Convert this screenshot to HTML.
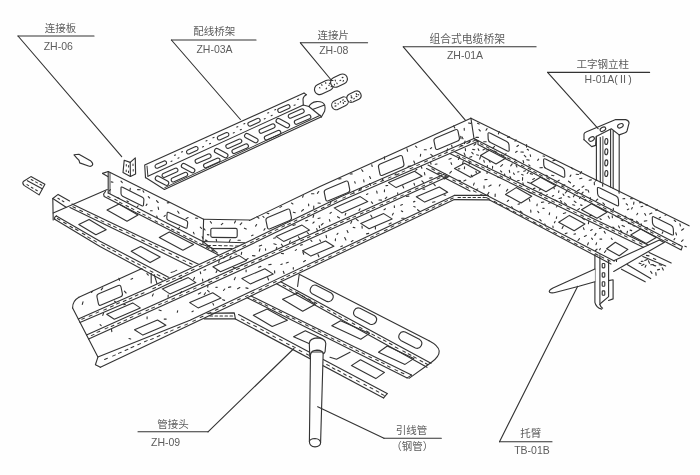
<!DOCTYPE html>
<html lang="zh"><head><meta charset="utf-8"><title>组合式电缆桥架安装示意图</title>
<style>
html,body{margin:0;padding:0;background:#fefefe;}
body{width:700px;height:475px;overflow:hidden;font-family:"Liberation Sans","Noto Sans CJK SC",sans-serif;}
svg{display:block;filter:blur(0.35px);}
svg text{font-family:"Liberation Sans","Noto Sans CJK SC",sans-serif;}
</style></head><body>
<svg width="700" height="475" viewBox="0 0 700 475" fill="none" stroke="#333" stroke-width="1.12" stroke-linecap="round" stroke-linejoin="round">
<g id="small-parts">
<path d="M124.2 160.2 L130.2 162.4 L130.4 176.5 L123.0 172.6Z"/>
<path d="M130.2 162.4 L135.3 157.9 L135.6 173.9 L130.4 176.5"/>
<path d="M126.3 164.5l0 1.5M126.2 170l0 1.5M128.6 165.5l0 1.5M128.5 171l0 1.5M133 164l0 1.5M133.2 169.5l0 1.5" stroke-width="1.01"/>
<path d="M74 154.8 L78.9 154.3 L90.9 161.1 Q93.5 163.5 92.4 165.2 Q91 167 88.5 166 L79.7 162.9 Q79.5 160 77.5 158.8 Z"/>
<path d="M24 185.4 Q22 183 23.3 181.5 L30.9 176.6 L44.9 184.3 L39.1 194.9 Z"/>
<path d="M27.4 180.7 L42.2 188.8"/>
<path d="M31.2 179.5 L33.0 180.5 M35.6 181.9 L37.4 182.9 M40.0 184.3 L41.8 185.3" stroke-width="1.01"/>
<path d="M27.0 184.6 L28.7 185.6 M31.3 187.2 L33.0 188.2 M35.6 189.8 L37.3 190.8" stroke-width="1.01"/>
<path d="M322.0 94.1 L330.6 89.9 A5.2 5.2 0 0 0 326.0 80.5 L317.4 84.7 A5.2 5.2 0 0 0 322.0 94.1 Z" fill="#fefefe"/>
<path d="M337.8 86.7 L344.6 83.5 A5.0 5.0 0 0 0 340.2 74.5 L333.4 77.7 A5.0 5.0 0 0 0 337.8 86.7 Z" fill="#fefefe"/>
<path d="M319.6 87.6 l0.3 0.4 M332.0 86.3 l-0.9 0.4 M325.7 82.6 l0.1 0.8 M326.6 88.2 l-0.5 0.7 M321.5 84.8 l0.6 0.4 M330.2 82.9 l-0.8 0.5 M329.2 85.2 l-0.4 0.3"/>
<path d="M343.0 77.4 l-0.8 0.2 M336.8 83.0 l0.4 0.7 M333.0 80.5 l-0.7 0.0 M343.5 80.5 l-0.4 0.7 M340.7 80.3 l-0.7 0.3 M335.2 80.0 l0.2 0.9 M334.4 84.4 l0.0 0.5"/>
<path d="M338.2 109.2 L345.8 105.5 A4.5 4.5 0 0 0 341.8 97.4 L334.2 101.1 A4.5 4.5 0 0 0 338.2 109.2 Z" fill="#fefefe"/>
<path d="M352.9 102.1 L358.9 99.2 A4.4 4.4 0 0 0 355.1 91.3 L349.1 94.2 A4.4 4.4 0 0 0 352.9 102.1 Z" fill="#fefefe"/>
<path d="M340.6 101.6 l-0.3 0.6 M334.9 103.1 l0.8 0.1 M344.6 101.4 l0.7 0.1 M338.0 103.9 l0.5 0.1 M336.0 105.9 l-1.0 0.2 M343.2 102.6 l0.3 0.9 M343.1 99.5 l-0.2 0.9"/>
<path d="M350.7 100.5 l0.4 0.7 M358.0 94.6 l0.8 0.3 M351.0 95.8 l0.6 0.4 M354.3 98.3 l-0.5 0.5 M356.0 96.3 l0.9 0.3 M356.2 93.6 l0.4 0.9 M351.2 97.6 l0.9 0.3"/>
</g>
<g id="wire-tray-zh03a">
<path d="M145.5 177.6 L144.7 165.0 L304.1 93.1"/>
<path d="M304.1 93.1 L306.5 94.7 Q303.4 96 303 99 L303.3 105"/>
<path d="M147.0 166.0 L147.9 176.2" stroke-width="1.01"/>
<path d="M147.9 176.2 L303.3 105.0 L308.9 106.5"/>
<path d="M145.5 177.6 L164.4 189.4 L321.5 116.8"/>
<path d="M164.8 187.6 L320.3 115.2" stroke-width="1.01"/>
<path d="M308.9 106.5 L321.5 116.8"/>
<path d="M308.9 106.5 Q311 102.3 316.5 101.6 Q323 101.2 324.7 105.2 Q325.6 108 324.6 111.3 L321.5 116.8"/>
<path d="M312.5 109.5 L324.6 105.0" stroke-width="1.01"/>
<path d="M157.5 168.2 L165.7 164.5 A2.0 2.0 0 0 0 164.1 160.9 L155.9 164.6 A2.0 2.0 0 0 0 157.5 168.2 Z"/>
<path d="M171.0 161.4 l1 -0.4"/>
<path d="M174.5 155.3 l1 -0.4"/>
<path d="M178.0 158.2 l1 -0.4"/>
<path d="M181.5 152.1 l1 -0.4"/>
<path d="M189.0 153.9 L197.2 150.2 A2.0 2.0 0 0 0 195.6 146.6 L187.4 150.3 A2.0 2.0 0 0 0 189.0 153.9 Z"/>
<path d="M202.5 147.0 l1 -0.4"/>
<path d="M206.0 141.0 l1 -0.4"/>
<path d="M209.5 143.8 l1 -0.4"/>
<path d="M213.0 137.8 l1 -0.4"/>
<path d="M219.8 139.9 L228.0 136.2 A2.0 2.0 0 0 0 226.4 132.6 L218.2 136.3 A2.0 2.0 0 0 0 219.8 139.9 Z"/>
<path d="M233.3 133.0 l1 -0.4"/>
<path d="M236.8 127.1 l1 -0.4"/>
<path d="M240.3 129.8 l1 -0.4"/>
<path d="M243.8 123.9 l1 -0.4"/>
<path d="M250.7 125.9 L258.9 122.2 A2.0 2.0 0 0 0 257.3 118.5 L249.1 122.2 A2.0 2.0 0 0 0 250.7 125.9 Z"/>
<path d="M264.2 118.9 l1 -0.4"/>
<path d="M267.7 113.1 l1 -0.4"/>
<path d="M271.2 115.7 l1 -0.4"/>
<path d="M274.7 109.9 l1 -0.4"/>
<path d="M280.6 112.3 L288.8 108.6 A2.0 2.0 0 0 0 287.2 104.9 L279.0 108.6 A2.0 2.0 0 0 0 280.6 112.3 Z"/>
<path d="M294.1 105.3 l1 -0.4"/>
<path d="M297.6 99.5 l1 -0.4"/>
<path d="M156.5 180.4 L165.3 185.1 A2.3 2.3 0 0 0 167.5 181.0 L158.7 176.3 A2.3 2.3 0 0 0 156.5 180.4 Z"/>
<path d="M182.6 167.8 L191.4 172.5 A2.3 2.3 0 0 0 193.6 168.4 L184.8 163.7 A2.3 2.3 0 0 0 182.6 167.8 Z"/>
<path d="M215.7 152.8 L224.5 157.5 A2.3 2.3 0 0 0 226.7 153.4 L217.9 148.7 A2.3 2.3 0 0 0 215.7 152.8 Z"/>
<path d="M245.8 137.8 L254.6 142.5 A2.3 2.3 0 0 0 256.8 138.4 L248.0 133.7 A2.3 2.3 0 0 0 245.8 137.8 Z"/>
<path d="M277.3 122.8 L286.1 127.5 A2.3 2.3 0 0 0 288.3 123.4 L279.5 118.7 A2.3 2.3 0 0 0 277.3 122.8 Z"/>
<path d="M164.9 177.3 L176.7 172.1 A2.0 2.0 0 0 0 175.1 168.3 L163.3 173.5 A2.0 2.0 0 0 0 164.9 177.3 Z"/>
<path d="M198.0 163.1 L209.8 157.9 A2.0 2.0 0 0 0 208.2 154.1 L196.4 159.3 A2.0 2.0 0 0 0 198.0 163.1 Z"/>
<path d="M228.7 148.2 L240.5 143.0 A2.0 2.0 0 0 0 238.9 139.2 L227.1 144.4 A2.0 2.0 0 0 0 228.7 148.2 Z"/>
<path d="M262.0 133.1 L273.8 127.9 A2.0 2.0 0 0 0 272.2 124.1 L260.4 129.3 A2.0 2.0 0 0 0 262.0 133.1 Z"/>
<path d="M291.1 118.1 L302.9 112.9 A2.0 2.0 0 0 0 301.3 109.1 L289.5 114.3 A2.0 2.0 0 0 0 291.1 118.1 Z"/>
<path d="M174.1 181.7 L186.4 176.3 A2.0 2.0 0 0 0 184.7 172.5 L172.4 177.9 A2.0 2.0 0 0 0 174.1 181.7 Z"/>
<path d="M206.5 167.5 L218.8 162.1 A2.0 2.0 0 0 0 217.1 158.3 L204.8 163.7 A2.0 2.0 0 0 0 206.5 167.5 Z"/>
<path d="M234.9 153.3 L247.2 147.9 A2.0 2.0 0 0 0 245.5 144.1 L233.2 149.5 A2.0 2.0 0 0 0 234.9 153.3 Z"/>
<path d="M267.3 139.8 L279.6 134.4 A2.0 2.0 0 0 0 277.9 130.6 L265.6 136.0 A2.0 2.0 0 0 0 267.3 139.8 Z"/>
<path d="M297.3 124.1 L309.6 118.7 A2.0 2.0 0 0 0 307.9 114.9 L295.6 120.3 A2.0 2.0 0 0 0 297.3 124.1 Z"/>
</g>
<g id="tray1-upper-left">
<path d="M102.6 173.4 L108.2 171.5 L203.6 219.3"/>
<path d="M102.6 173.4 L107.8 176.6"/>
<path d="M108.2 171.5 L108.2 192.9"/>
<path d="M110.0 172.6 L110.0 193.5" stroke-width="0.90"/>
<path d="M108.2 192.9 L202.9 241.5"/>
<path d="M105.5 191.5 L103.6 194.0 L104.2 196.6 L220.0 255.8"/>
<path d="M202.9 241.5 L217.3 252.9"/>
<path d="M107.8 196.3 L110.2 197.6 M114.8 199.3 L117.3 200.6 M119.6 202.3 L122.1 203.6 M126.0 205.5 L128.5 206.8 M131.5 208.3 L133.9 209.6 M137.5 211.5 L140.0 212.7 M142.8 214.1 L145.2 215.3 M148.3 217.1 L150.8 218.4 M155.1 220.8 L157.6 222.1 M161.2 223.6 L163.7 224.9 M166.7 226.2 L169.2 227.5 M171.5 229.0 L174.0 230.2 M177.0 231.8 L179.5 233.0 M183.6 235.3 L186.1 236.6 M189.7 238.2 L192.2 239.5 M194.6 240.8 L197.1 242.1 M199.7 243.5 L202.1 244.8 M206.5 247.2 L209.0 248.5 M211.6 250.0 L214.1 251.3" stroke-width="1.01"/>
<path d="M121.0 188.2 Q121.0 186.4 122.6 187.2 L142.4 197.2 Q144.0 198.0 143.9 199.8 L143.5 204.7 Q143.4 206.5 141.8 205.7 L122.6 196.2 Q121.0 195.4 121.0 193.6 Z"/>
<path d="M167.1 213.5 Q167.3 211.7 168.9 212.5 L186.3 220.4 Q187.9 221.2 187.7 223.0 L187.2 227.0 Q187.0 228.8 185.4 228.1 L168.2 220.3 Q166.6 219.6 166.8 217.8 Z"/>
<path d="M150.5 210.7 l1.7 0.0 M200.3 227.2 l1.2 1.1 M110.4 189.6 l-1.2 1.4 M177.7 211.2 l1.3 2.0 M169.2 202.6 l-1.9 0.3 M121.0 181.2 l1.3 1.5 M179.5 227.2 l-1.4 2.1 M156.5 200.7 l1.7 1.8 M193.4 232.3 l0.7 1.6 M202.2 236.8 l0.7 1.6 M165.3 215.3 l-1.2 1.1 M148.3 196.7 l1.3 1.3 M188.1 217.6 l-2.1 1.1 M127.0 200.9 l1.4 0.8 M137.6 189.6 l2.6 0.1 M156.7 216.0 l0.6 1.7 M117.2 197.5 l2.2 0.9 M158.1 207.0 l0.5 2.4 M138.1 205.8 l-1.0 1.2 M195.6 218.1 l2.0 0.1 M130.3 188.4 l-0.3 1.7 M111.2 181.9 l1.8 0.3 M147.0 204.1 l-0.9 1.4 M143.0 190.8 l0.8 1.4"/>
<path d="M203.6 219.3 L249.4 220.0"/>
<path d="M203.6 219.3 L202.9 244.4"/>
<path d="M202.9 241.5 L244.6 242.8"/>
<path d="M202.9 244.4 L213.0 248.6 L234.4 248.6 L245.1 243.6"/>
<path d="M207.5 245.4 L210.5 245.5 M213.1 245.5 L216.1 245.6 M218.7 245.6 L221.7 245.7 M224.3 245.7 L227.3 245.8 M229.9 245.8 L232.9 245.9 M235.5 245.9 L238.5 246.0" stroke-width="1.01"/>
<path d="M210.8 229.8 Q210.8 228.2 212.4 228.2 L235.6 228.4 Q237.2 228.4 237.2 230.0 L237.2 236.0 Q237.2 237.6 235.6 237.6 L212.4 237.4 Q210.8 237.4 210.8 235.8 Z"/>
<path d="M238.0 240.3 l2.3 0.0 M210.3 221.5 l1.2 1.6 M205.3 240.1 l1.7 0.5 M241.8 222.8 l-1.6 1.8 M222.8 223.4 l-1.5 1.3 M203.9 228.6 l1.2 1.4 M230.2 239.6 l-0.9 2.1 M216.2 239.2 l0.4 1.9 M235.5 220.9 l-1.0 2.1 M244.4 228.2 l1.8 0.9 M207.4 234.6 l1.5 0.3"/>
<path d="M53.2 213.0 L107.3 189.6"/>
<path d="M53.2 219.9 L52.8 198.5 L58.1 194.4 L69.6 201.0"/>
<path d="M52.8 198.5 L66.1 207.3"/>
<path d="M57.9 198.3 L59.6 199.3 M62.2 200.8 L63.9 201.8" stroke-width="1.01"/>
<path d="M56.4 215.9 L100.0 241.2 L169.9 278.0"/>
<path d="M54.7 219.3 L100.0 246.4 L163.8 281.1"/>
<path d="M56.4 215.9 Q53.8 217 54.7 219.3"/>
<path d="M57.4 218.5 L59.9 220.0 M63.6 222.3 L66.2 223.8 M70.0 226.2 L72.5 227.7 M75.4 229.0 L78.0 230.5 M82.3 233.2 L84.9 234.7 M87.7 236.9 L90.3 238.4 M93.9 240.4 L96.4 241.9" stroke-width="1.01"/>
<path d="M101.8 244.6 L104.5 246.0 M107.3 247.6 L109.9 249.0 M112.9 250.4 L115.6 251.8 M118.8 254.1 L121.5 255.6 M125.9 257.8 L128.5 259.2 M131.7 260.8 L134.3 262.2 M137.6 263.7 L140.3 265.1 M143.1 266.6 L145.8 268.0 M150.2 270.9 L152.9 272.3 M157.3 274.6 L159.9 276.0 M163.1 277.4 L165.7 278.8" stroke-width="1.01"/>
<path d="M72.0 204.0 L140.0 236.5 L199.0 264.5"/>
<path d="M70.0 207.6 L140.0 241.5 L192.2 267.6"/>
<path d="M72.8 206.7 L75.5 208.0 M79.8 210.2 L82.5 211.5 M87.3 213.8 L90.0 215.1 M94.9 217.0 L97.6 218.3 M101.1 220.6 L103.8 221.9 M107.9 223.8 L110.6 225.1 M113.6 226.3 L116.3 227.6 M119.5 229.2 L122.2 230.5 M126.3 232.1 L129.0 233.4 M132.1 235.0 L134.8 236.4" stroke-width="1.01"/>
<path d="M141.7 240.0 L144.4 241.3 M149.0 243.4 L151.7 244.7 M155.1 246.0 L157.8 247.3 M161.8 249.6 L164.5 250.9 M168.9 253.0 L171.6 254.3 M176.0 256.3 L178.7 257.7 M183.0 260.1 L185.7 261.4 M189.4 263.0 L192.1 264.3" stroke-width="1.01"/>
<path d="M78.8 224.6 L89.1 219.4 L106.2 229.7 L95.9 234.8Z"/>
<path d="M131.2 251.2 L140.7 246.5 L160.2 257.0 L150.1 262.6Z"/>
<path d="M107.0 210.0 L119.0 204.0 L138.0 215.0 L127.0 221.3Z"/>
<path d="M159.3 237.6 L169.3 231.9 L193.6 244.5 L182.9 250.2Z"/>
</g>
<g id="tray2">
<path d="M78.3 318.9 L452.0 148.5 L452.0 200.7 L100.4 367.2Z" fill="#fefefe" stroke="none"/>
<path d="M72.6 307.9 Q72.4 301 78.9 297.3"/>
<path d="M78.9 297.3 L142.0 268.5"/>
<path d="M151.2 273.2 L151.2 283.0"/>
<path d="M154.2 274.6 L157.0 283.6"/>
<path d="M171 272.4 Q174 272.2 176.8 270.2" stroke-width="1.01"/>
<path d="M249.4 220.5 L320.0 186.6 L470.9 118.2"/>
<path d="M470.9 118.2 L474.0 138.5 L478.0 141.2"/>
<path d="M72.6 307.9 L97.9 357.1 L95.4 364.7 L100.4 367.2"/>
<path d="M78.3 318.9 L150.0 287.2 L240.0 245.5 L340.0 197.0 L474.0 138.5"/>
<path d="M79.9 322.4 L150.0 292.4 L240.0 249.8 L340.0 201.3 L478.0 141.2"/>
<path d="M86.5 335.0 L445.1 173.8"/>
<path d="M88.6 339.0 L449.1 175.9"/>
<path d="M97.9 357.1 L190.0 320.3 L454.3 195.4"/>
<path d="M100.4 367.2 L454.3 199.6"/>
<path d="M81.8 319.3 L84.5 318.1 M89.2 316.3 L92.0 315.1 M96.0 313.1 L98.7 311.9 M103.7 310.1 L106.4 309.0 M110.5 307.0 L113.3 305.8 M116.6 304.0 L119.4 302.8 M123.3 301.5 L126.1 300.3 M129.2 299.0 L131.9 297.8 M135.3 296.0 L138.0 294.8 M141.2 294.0 L144.0 292.8" stroke-width="1.01"/>
<path d="M152.8 288.8 L155.6 287.5 M158.5 285.5 L161.2 284.2 M166.6 281.8 L169.3 280.6 M172.5 279.3 L175.3 278.1 M179.0 276.5 L181.7 275.2 M185.2 273.6 L187.9 272.4 M191.4 270.5 L194.1 269.2 M199.3 266.8 L202.0 265.6 M207.1 263.2 L209.9 261.9 M212.9 260.6 L215.6 259.3 M219.7 257.0 L222.5 255.7 M225.9 254.5 L228.6 253.2 M232.9 251.3 L235.6 250.0" stroke-width="1.01"/>
<path d="M242.8 246.6 L245.5 245.3 M250.6 242.8 L253.3 241.4 M256.3 239.8 L259.0 238.5 M262.8 236.6 L265.5 235.3 M268.6 233.6 L271.3 232.3 M275.2 230.4 L277.9 229.1 M281.8 227.1 L284.5 225.7 M287.7 224.6 L290.4 223.3 M294.2 221.4 L296.9 220.0 M301.5 217.7 L304.2 216.4 M307.3 215.2 L310.0 213.9 M314.2 211.8 L316.9 210.4 M321.4 208.5 L324.1 207.2 M327.7 205.3 L330.4 204.0 M334.1 202.1 L336.8 200.8" stroke-width="1.01"/>
<path d="M342.8 198.1 L345.6 196.9 M350.4 194.4 L353.1 193.2 M358.5 190.9 L361.3 189.7 M365.8 187.6 L368.5 186.4 M373.3 184.4 L376.1 183.2 M380.8 181.5 L383.6 180.3 M388.3 178.1 L391.0 176.9 M396.2 175.0 L399.0 173.8 M402.0 172.1 L404.8 170.9 M410.1 168.8 L412.8 167.6 M416.7 165.6 L419.5 164.4 M424.6 162.0 L427.4 160.8 M432.4 159.1 L435.1 157.9 M438.3 156.2 L441.0 155.0 M444.7 153.5 L447.4 152.3 M451.3 150.9 L454.1 149.7 M459.1 147.1 L461.9 145.9 M466.9 143.5 L469.7 142.3 M472.9 141.3 L475.7 140.1" stroke-width="1.01"/>
<path d="M91.3 335.6 L94.0 334.4 M97.0 332.4 L99.8 331.2 M105.1 328.9 L107.9 327.6 M111.2 326.5 L113.9 325.2 M117.7 323.7 L120.4 322.4 M123.9 320.9 L126.6 319.7 M130.2 317.8 L132.9 316.6 M138.1 314.3 L140.8 313.1 M146.0 310.8 L148.7 309.6 M151.7 308.3 L154.5 307.1 M158.7 304.8 L161.4 303.6 M164.9 302.4 L167.6 301.1 M171.9 299.2 L174.7 298.0 M179.4 295.9 L182.2 294.6 M186.4 292.6 L189.1 291.3 M193.4 289.1 L196.1 287.9 M201.4 285.6 L204.1 284.3 M209.0 282.5 L211.8 281.3 M216.1 278.8 L218.8 277.6 M223.8 275.7 L226.6 274.4 M229.7 272.6 L232.5 271.3 M236.6 269.5 L239.4 268.2 M244.6 266.2 L247.4 264.9 M251.5 263.0 L254.2 261.8 M258.9 260.0 L261.6 258.8 M265.1 256.9 L267.8 255.6 M272.1 253.6 L274.8 252.4 M279.2 250.6 L282.0 249.3 M285.9 247.6 L288.7 246.4 M292.7 244.2 L295.4 243.0 M300.8 240.7 L303.6 239.5 M307.5 237.7 L310.2 236.5 M315.5 234.5 L318.3 233.2 M322.3 231.1 L325.0 229.8 M328.2 228.7 L331.0 227.5 M334.2 225.8 L336.9 224.6 M340.6 222.8 L343.3 221.5 M347.0 219.8 L349.8 218.5 M352.8 217.4 L355.6 216.2 M360.4 214.0 L363.2 212.8 M366.5 211.3 L369.3 210.1 M372.2 208.6 L374.9 207.3 M380.0 205.4 L382.7 204.2 M386.7 202.3 L389.4 201.1 M393.4 199.1 L396.2 197.8 M400.6 196.1 L403.3 194.9 M407.9 192.5 L410.6 191.3 M415.3 189.3 L418.1 188.0 M421.9 186.4 L424.6 185.2 M429.4 182.9 L432.2 181.7 M437.2 179.0 L440.0 177.8 M444.2 176.2 L446.9 175.0" stroke-width="1.01"/>
<path d="M104.6 359.5 L107.4 358.3 M112.6 356.1 L115.4 354.9 M118.4 353.4 L121.2 352.2 M125.1 350.5 L127.9 349.3 M131.0 347.7 L133.8 346.5 M137.8 344.8 L140.5 343.6 M144.5 341.8 L147.2 340.6 M150.5 339.6 L153.3 338.5 M157.2 336.7 L159.9 335.5 M164.6 333.4 L167.4 332.2 M170.5 331.1 L173.2 329.9 M177.6 328.0 L180.3 326.8 M184.8 325.1 L187.6 323.9" stroke-width="1.01"/>
<path d="M192.8 321.4 L195.5 320.1 M200.2 317.5 L203.0 316.2 M208.2 313.7 L210.9 312.4 M215.4 310.2 L218.1 309.0 M222.8 306.8 L225.5 305.5 M230.3 303.6 L233.0 302.4 M237.6 300.0 L240.3 298.7 M245.4 296.6 L248.1 295.4 M251.2 293.6 L253.9 292.3 M259.1 290.0 L261.8 288.7 M265.6 286.6 L268.4 285.3 M273.5 282.8 L276.2 281.5 M281.1 279.7 L283.8 278.4 M286.9 276.6 L289.6 275.3 M293.3 273.7 L296.0 272.4 M299.8 270.9 L302.5 269.6 M307.5 266.8 L310.2 265.6 M315.1 263.0 L317.9 261.8 M321.1 260.6 L323.8 259.3 M328.6 257.2 L331.4 255.9 M336.6 253.4 L339.3 252.1 M342.8 250.4 L345.5 249.1 M350.5 246.4 L353.2 245.1 M357.2 243.2 L360.0 241.9 M363.2 240.6 L365.9 239.3 M370.6 237.4 L373.3 236.1 M376.3 234.4 L379.0 233.1 M384.4 230.8 L387.1 229.5 M391.1 227.2 L393.8 225.9 M398.2 223.9 L400.9 222.6 M405.4 220.7 L408.1 219.4 M412.0 217.7 L414.7 216.4 M418.4 214.4 L421.2 213.2 M426.0 210.7 L428.7 209.4 M432.1 208.1 L434.8 206.8 M438.8 205.1 L441.5 203.8 M444.8 201.9 L447.5 200.6 M450.5 199.3 L453.2 198.0" stroke-width="1.01"/>
<path d="M97.0 297.0 Q96.5 294.7 98.7 293.8 L118.3 285.5 Q120.5 284.6 121.0 287.0 L122.4 293.6 Q122.9 295.9 120.7 296.8 L101.1 305.1 Q98.9 306.0 98.4 303.6 Z"/>
<path d="M266.0 220.7 Q265.5 218.4 267.7 217.5 L287.3 209.2 Q289.5 208.3 290.0 210.7 L291.4 217.3 Q291.9 219.6 289.7 220.5 L270.1 228.8 Q267.9 229.7 267.4 227.3 Z"/>
<path d="M324.3 192.7 Q323.8 190.4 326.0 189.5 L345.6 181.2 Q347.8 180.3 348.3 182.7 L349.7 189.3 Q350.2 191.6 348.0 192.5 L328.4 200.8 Q326.2 201.7 325.7 199.3 Z"/>
<path d="M378.5 167.2 Q378.0 164.9 380.2 164.0 L399.8 155.7 Q402.0 154.8 402.5 157.2 L403.9 163.8 Q404.4 166.1 402.2 167.0 L382.6 175.3 Q380.4 176.2 379.9 173.8 Z"/>
<path d="M434.0 141.2 Q433.5 138.9 435.7 138.0 L455.3 129.7 Q457.5 128.8 458.0 131.2 L459.4 137.8 Q459.9 140.1 457.7 141.0 L438.1 149.3 Q435.9 150.2 435.4 147.8 Z"/>
<path d="M106.7 314.2 L132.7 302.9 L140.3 307.9 L114.3 319.2Z"/>
<path d="M162.3 288.9 L188.3 277.6 L195.9 282.6 L169.9 293.9Z"/>
<path d="M212.9 266.7 L238.9 255.4 L246.5 260.4 L220.5 271.7Z"/>
<path d="M276.0 236.4 L302.0 225.1 L309.6 230.1 L283.6 241.4Z"/>
<path d="M334.2 207.9 L360.2 196.6 L367.8 201.6 L341.8 212.9Z"/>
<path d="M388.5 182.6 L414.5 171.3 L422.1 176.3 L396.1 187.6Z"/>
<path d="M134.5 329.8 L157.5 320.0 L165.9 325.3 L142.9 335.1Z"/>
<path d="M189.7 302.6 L212.7 292.8 L221.1 298.1 L198.1 307.9Z"/>
<path d="M241.9 278.6 L264.9 268.8 L273.3 274.1 L250.3 283.9Z"/>
<path d="M302.5 250.8 L325.5 241.0 L333.9 246.3 L310.9 256.1Z"/>
<path d="M360.7 223.4 L383.7 213.6 L392.1 218.9 L369.1 228.7Z"/>
<path d="M416.3 196.8 L439.3 187.0 L447.7 192.3 L424.7 202.1Z"/>
<path d="M303.5 209.5 l-1.9 1.7 M447.6 148.8 l-0.8 2.3 M369.6 176.5 l1.0 2.0 M256.6 224.5 l-1.0 1.6 M410.6 166.1 l-2.5 0.3 M291.5 203.1 l1.4 0.8 M431.6 147.7 l-1.2 0.9 M464.2 128.2 l0.1 2.1 M341.0 178.8 l-2.2 0.1 M407.0 148.9 l0.6 2.4 M382.8 178.7 l-0.5 1.5 M262.9 216.3 l1.1 1.1 M313.8 206.0 l-0.1 2.4 M353.7 191.6 l0.3 2.0 M384.4 156.9 l0.2 2.3 M253.1 235.1 l-1.5 0.6 M352.1 173.9 l-1.9 0.1 M318.7 191.5 l-1.3 1.8 M420.7 154.2 l-0.4 2.1 M330.9 201.6 l-0.4 1.5 M395.9 173.8 l-0.9 1.1 M293.3 212.3 l1.9 0.5 M318.0 203.0 l2.2 0.3 M371.7 164.7 l0.5 1.8 M468.4 123.0 l2.3 0.4 M265.0 228.6 l-1.1 1.6 M369.5 183.7 l1.2 1.7 M453.7 125.9 l1.1 2.0 M281.6 206.4 l-1.6 1.0 M361.7 169.7 l1.2 1.7 M257.0 216.6 l1.9 1.6 M267.1 213.2 l1.7 0.4 M451.6 145.2 l0.5 2.0 M361.5 188.3 l-2.0 1.2 M426.3 149.7 l-2.0 0.1 M415.6 146.2 l1.2 1.1 M430.8 154.4 l1.7 1.5 M413.8 161.0 l0.9 2.2 M303.2 195.6 l-0.6 1.6 M462.0 136.9 l1.0 1.9 M313.9 193.8 l-2.4 0.0 M363.7 179.9 l0.3 2.0 M354.7 181.7 l0.5 1.4 M308.6 204.1 l0.1 1.6"/>
<path d="M83.0 301.9 l-0.7 2.5 M146.9 273.6 l1.4 1.5 M124.4 291.2 l1.7 1.8 M118.9 278.2 l0.6 2.1 M132.6 278.4 l-1.6 0.8 M114.6 301.2 l1.1 0.9 M92.4 291.4 l-0.9 1.1 M102.7 287.8 l-1.5 2.0"/>
<path d="M153.3 293.9 l-0.9 2.1 M100.1 324.7 l1.1 1.0 M125.3 304.5 l-1.5 0.1 M194.5 277.4 l-0.9 2.0 M181.5 291.7 l-1.2 1.4 M103.5 313.1 l-0.7 2.3 M181.4 278.3 l-1.7 0.2 M168.2 295.0 l-0.1 2.2"/>
<path d="M261.6 245.2 l-2.3 0.9 M386.8 197.1 l-1.5 1.6 M202.6 279.1 l0.1 1.8 M437.1 164.0 l-1.8 0.3 M331.3 212.4 l-1.2 0.9 M290.3 240.9 l-0.8 1.5 M307.8 220.3 l-2.1 0.6 M414.0 183.3 l0.6 1.8 M225.0 256.9 l-1.3 1.3 M360.0 208.8 l-1.0 1.7 M371.4 201.9 l1.2 1.5 M241.7 252.2 l-0.4 2.2 M217.0 270.4 l-0.9 2.0 M316.7 228.6 l0.8 2.5 M387.7 185.5 l-1.7 0.1 M295.3 224.7 l-2.3 0.7 M424.4 172.5 l0.5 2.5 M329.4 219.6 l0.6 1.7 M421.9 180.8 l1.5 1.6 M376.7 191.1 l0.4 2.0 M275.8 237.8 l-2.2 0.4 M345.8 213.3 l-0.6 1.8 M205.7 269.6 l-1.8 0.6 M233.2 267.5 l2.3 0.5 M252.5 255.6 l2.5 0.3 M402.7 185.8 l1.0 2.2 M243.0 264.5 l-2.3 1.0 M248.1 258.6 l-2.1 1.3 M397.7 192.8 l-0.0 1.4 M320.1 218.0 l-2.0 0.5 M276.8 247.3 l-0.6 1.6 M416.9 169.3 l-1.3 0.9 M437.5 173.2 l2.0 0.3 M323.1 223.3 l-1.7 1.7 M367.9 193.8 l-1.3 0.6 M281.4 244.2 l1.4 2.1 M307.3 232.7 l1.2 0.9 M231.1 256.3 l-1.2 1.8 M337.5 216.7 l2.1 1.2 M265.5 248.8 l0.1 1.4 M421.1 166.3 l0.8 2.0 M379.0 200.0 l2.5 0.1 M234.7 254.0 l2.0 0.3 M209.4 279.2 l-1.3 1.6 M219.2 260.4 l-0.5 2.4 M313.7 215.0 l-0.6 2.4 M273.8 243.8 l2.3 0.7 M384.5 189.8 l-0.1 1.9 M298.4 236.7 l1.4 2.0 M432.2 177.7 l-2.5 0.4 M259.9 248.8 l-0.6 2.3 M319.2 225.7 l0.4 2.0 M430.6 162.4 l0.4 1.8 M314.1 222.0 l-1.2 1.1 M200.3 271.9 l0.4 1.7"/>
<path d="M177.7 310.7 l-0.4 1.6 M111.5 329.4 l0.3 2.2 M147.1 316.9 l-0.0 1.9 M129.0 338.5 l1.7 0.5 M200.7 292.8 l-2.3 1.1 M164.2 319.1 l2.0 0.0 M159.0 310.0 l2.2 0.7 M193.3 311.1 l-1.3 0.6"/>
<path d="M246.1 270.0 l0.0 1.8 M391.2 223.0 l-2.1 1.1 M347.1 230.6 l0.9 2.0 M446.5 177.9 l-2.3 1.1 M434.9 201.7 l-2.4 0.5 M305.4 260.6 l-1.8 1.1 M319.7 239.9 l0.9 1.4 M408.9 196.1 l-2.5 0.4 M230.8 286.9 l-2.3 0.5 M271.1 264.4 l-2.4 0.4 M385.5 208.8 l-1.5 0.9 M302.3 244.6 l-1.9 0.6 M245.9 287.9 l2.1 0.5 M356.2 219.1 l2.0 1.6 M417.6 209.7 l1.9 1.5 M368.7 233.4 l-2.2 0.5 M370.8 215.2 l1.2 2.1 M422.9 189.1 l1.9 0.0 M414.9 201.4 l-1.4 0.5 M337.9 233.3 l-0.9 1.1 M205.5 292.8 l-1.3 1.9 M260.9 266.4 l-2.3 0.8 M222.7 299.7 l1.9 0.7 M281.4 253.5 l2.0 0.1 M342.4 245.9 l-1.5 0.7 M318.0 254.5 l0.9 2.3 M375.4 226.5 l-0.0 2.5 M235.3 277.4 l-1.0 2.3 M401.4 210.9 l1.2 0.7 M282.3 264.0 l-1.4 0.5 M353.0 240.5 l-1.7 1.1 M217.4 287.2 l-1.5 0.2 M267.7 277.6 l0.9 2.4 M274.6 270.9 l0.1 2.1 M293.3 267.5 l-0.0 1.6 M444.0 194.9 l1.7 0.3 M393.3 213.3 l-0.9 1.6 M351.7 221.3 l-0.9 2.1 M288.3 262.3 l-2.0 0.7 M404.3 218.2 l-2.6 0.0 M353.2 227.4 l1.7 0.4 M212.9 303.4 l0.7 1.7 M433.7 183.8 l1.5 1.9 M394.3 205.7 l0.1 1.7 M310.8 240.2 l1.1 1.1 M362.0 226.0 l0.2 2.2 M283.3 271.3 l0.8 2.2 M326.1 235.3 l0.5 2.5 M296.5 249.6 l-1.2 0.8 M239.8 287.6 l-2.2 1.2 M402.4 204.5 l-1.7 0.7 M302.9 252.0 l0.8 2.3 M344.7 237.6 l1.2 2.3 M413.8 206.5 l1.4 0.5 M207.9 285.0 l-0.2 2.1 M207.6 290.4 l1.6 1.5 M335.5 238.7 l-0.2 2.1 M224.7 289.0 l-1.2 1.5"/>
<path d="M207.0 313.2 L234.3 312.9 L235.4 318.9 L204.3 318.9"/>
<path d="M210.0 316.0 L212.5 316.0 M215.0 316.0 L217.5 316.0 M220.0 316.0 L222.5 316.0 M225.0 316.0 L227.5 316.0 M230.0 316.0 L232.5 316.0" stroke-width="1.01"/>
<path d="M454.3 195.4 L488.4 195.4"/>
<path d="M454.3 199.6 L489.6 199.9"/>
<path d="M458.0 197.6 L460.5 197.6 M463.0 197.6 L465.5 197.6 M468.0 197.6 L470.5 197.6 M473.0 197.6 L475.5 197.6 M478.0 197.6 L480.5 197.6 M483.0 197.6 L485.5 197.6" stroke-width="1.01"/>
</g>
<g id="tray3">
<path d="M470.9 118.2 L689.1 225.8"/>
<path d="M679.0 244.7 L682.3 246.6 L681.2 250.0 L680.3 249.4"/>
<path d="M474.0 138.5 L679.0 244.7"/>
<path d="M478.0 141.2 L478.0 144.4 L680.3 249.4"/>
<path d="M454.7 151.8 L648.1 245.0"/>
<path d="M450.3 153.8 L643.3 247.3"/>
<path d="M428.0 165.0 L614.3 261.1"/>
<path d="M426.5 168.6 L470.0 191.1"/>
<path d="M489.6 199.9 L611.0 264.0"/>
<path d="M480.5 143.7 L483.1 145.1 M486.5 146.7 L489.2 148.1 M494.1 150.9 L496.7 152.3 M501.2 154.6 L503.9 155.9 M507.5 158.0 L510.2 159.3 M514.4 161.5 L517.0 162.9 M521.4 165.2 L524.1 166.6 M528.1 168.2 L530.8 169.6 M533.8 171.5 L536.4 172.9 M539.6 174.5 L542.3 175.9 M546.7 177.8 L549.4 179.2 M554.1 181.6 L556.8 183.0 M561.4 186.0 L564.1 187.3 M567.4 189.0 L570.1 190.4 M574.8 192.4 L577.5 193.8 M581.9 196.1 L584.5 197.5 M589.4 200.4 L592.0 201.7 M597.3 204.1 L600.0 205.4 M603.4 207.6 L606.1 209.0 M610.4 210.9 L613.1 212.3 M617.8 215.2 L620.5 216.6 M624.2 218.1 L626.9 219.4 M631.2 221.9 L633.9 223.2 M638.2 225.6 L640.9 227.0 M644.8 228.6 L647.4 230.0 M650.4 231.9 L653.1 233.3 M657.6 235.6 L660.3 237.0 M664.9 239.4 L667.5 240.8 M672.4 243.4 L675.1 244.8" stroke-width="1.01"/>
<path d="M457.0 155.1 L459.7 156.4 M462.7 157.6 L465.4 158.9 M468.6 160.8 L471.3 162.1 M475.8 164.3 L478.5 165.6 M481.6 166.8 L484.3 168.1 M487.3 169.4 L490.0 170.7 M494.1 172.6 L496.8 173.9 M500.0 175.8 L502.7 177.2 M506.9 178.9 L509.6 180.2 M513.8 182.6 L516.5 183.9 M519.3 185.3 L522.0 186.6 M526.7 188.5 L529.4 189.9 M532.4 191.7 L535.1 193.0 M539.0 194.3 L541.7 195.7 M544.6 197.5 L547.3 198.8 M551.6 200.9 L554.3 202.2 M559.0 204.3 L561.7 205.6 M566.9 208.0 L569.6 209.3 M573.7 211.6 L576.4 212.9 M580.7 215.0 L583.4 216.3 M587.7 218.3 L590.4 219.6 M593.5 220.8 L596.2 222.1 M599.7 223.7 L602.4 225.0 M605.8 226.7 L608.5 228.0 M611.9 230.0 L614.6 231.3 M618.4 232.9 L621.1 234.2 M624.5 235.8 L627.2 237.1 M632.2 239.8 L634.9 241.1 M639.3 242.9 L642.0 244.2" stroke-width="1.01"/>
<path d="M431.8 168.8 L434.5 170.2 M438.9 172.6 L441.6 174.0 M445.4 176.3 L448.0 177.6 M452.8 180.0 L455.4 181.3 M459.6 183.2 L462.2 184.5 M466.0 186.7 L468.6 188.1 M473.4 190.7 L476.1 192.1 M480.7 194.4 L483.4 195.8 M486.5 197.6 L489.2 199.0 M494.1 201.2 L496.7 202.6 M499.7 204.2 L502.4 205.6 M506.3 207.8 L509.0 209.2 M513.3 211.2 L515.9 212.6 M520.2 214.7 L522.8 216.1 M525.8 217.4 L528.5 218.8 M533.3 221.8 L536.0 223.2 M539.5 225.0 L542.2 226.4 M546.4 228.1 L549.1 229.5 M553.8 232.2 L556.5 233.6 M561.5 236.2 L564.2 237.6 M567.2 239.2 L569.9 240.5 M574.5 243.1 L577.1 244.5 M580.8 246.1 L583.5 247.5 M588.1 249.6 L590.7 251.0 M595.4 253.8 L598.1 255.2 M601.0 256.6 L603.7 258.0 M607.5 259.7 L610.2 261.1" stroke-width="1.01"/>
<path d="M488.0 134.4 Q487.8 132.0 489.9 133.1 L506.7 141.4 Q508.8 142.5 509.0 144.9 L509.2 149.6 Q509.4 152.0 507.3 150.9 L490.5 142.6 Q488.4 141.5 488.2 139.1 Z"/>
<path d="M543.6 160.4 Q543.4 158.0 545.5 159.1 L562.3 167.4 Q564.4 168.5 564.6 170.9 L564.8 175.6 Q565.0 178.0 562.9 176.9 L546.1 168.6 Q544.0 167.5 543.8 165.1 Z"/>
<path d="M597.4 189.1 Q597.2 186.7 599.3 187.8 L616.1 196.1 Q618.2 197.2 618.4 199.6 L618.6 204.3 Q618.8 206.7 616.7 205.6 L599.9 197.3 Q597.8 196.2 597.6 193.8 Z"/>
<path d="M652.3 218.2 Q652.1 215.8 654.2 216.9 L671.0 225.2 Q673.1 226.3 673.3 228.7 L673.5 233.4 Q673.7 235.8 671.6 234.7 L654.8 226.4 Q652.7 225.3 652.5 222.9 Z"/>
<path d="M496.0 164.0 L480.5 155.6 L490.5 149.6 L506.0 158.0Z"/>
<path d="M546.0 191.7 L530.5 183.3 L540.5 177.3 L556.0 185.7Z"/>
<path d="M597.0 218.2 L581.5 209.8 L591.5 203.8 L607.0 212.2Z"/>
<path d="M646.2 243.4 L630.7 235.0 L640.7 229.0 L656.2 237.4Z"/>
<path d="M619.2 255.8 L606.6 248.7 L615.3 242.3 L627.9 249.4Z"/>
<path d="M521.0 203.0 L505.5 194.4 L516.2 187.6 L531.7 196.2Z"/>
<path d="M574.2 230.8 L558.7 222.2 L569.4 215.4 L584.9 224.0Z"/>
<path d="M470.5 177.2 L454.5 168.4 L464.5 163.2 L480.5 172.0Z"/>
<path d="M683.7 228.8 l-2.1 1.4 M475.9 137.4 l2.5 0.0 M583.1 192.2 l-1.2 1.3 M527.2 149.3 l1.3 0.8 M559.2 180.2 l-1.4 0.9 M637.7 213.3 l-0.9 1.4 M618.9 191.6 l0.3 1.7 M666.3 214.6 l-1.2 0.8 M613.3 208.3 l0.1 1.5 M652.3 228.1 l2.1 1.2 M626.2 203.8 l1.3 1.1 M517.2 151.3 l-1.6 1.0 M570.9 175.0 l-0.8 1.4 M555.0 160.1 l-2.1 0.7 M499.2 131.6 l-0.8 2.3 M651.8 213.1 l-2.1 1.0 M683.1 239.8 l-1.5 1.5 M597.7 199.2 l-1.5 1.3 M591.3 179.9 l-2.2 0.3 M574.1 185.5 l-1.2 1.2 M545.6 175.2 l1.6 0.4 M477.5 123.3 l1.7 0.7 M494.5 146.4 l-1.6 1.7 M625.2 216.1 l1.2 1.2 M528.8 164.9 l1.2 1.0 M624.7 198.6 l-1.8 0.1 M581.9 178.2 l-2.2 0.6 M509.6 136.9 l-2.0 0.5 M602.6 184.2 l0.1 1.9 M542.3 167.6 l-2.4 0.1 M660.5 217.3 l-1.3 0.7 M506.0 153.7 l-1.1 1.3 M514.3 159.2 l1.8 1.1 M523.1 160.5 l0.6 2.3 M487.1 128.6 l-1.1 1.7 M645.8 204.9 l1.7 0.2 M636.6 221.2 l1.7 1.4 M543.0 156.0 l1.6 0.3 M530.2 154.7 l0.4 1.8 M538.6 159.1 l-0.9 1.3 M564.9 184.8 l-2.2 0.5 M516.0 139.8 l-1.0 1.3 M588.2 190.4 l0.6 1.7 M602.9 202.9 l1.6 1.7 M674.8 238.5 l-0.8 1.3 M583.8 186.1 l-1.7 1.2 M630.7 198.6 l1.8 0.1 M646.9 220.8 l-2.6 0.3 M684.9 246.2 l1.4 0.6 M674.2 220.2 l1.4 1.3 M632.3 207.6 l-0.7 1.3 M571.2 167.6 l1.5 1.2 M518.5 145.3 l-1.6 1.2 M642.1 202.4 l-2.6 0.3 M520.9 152.0 l2.4 0.1 M579.5 189.5 l-1.9 1.2 M679.9 223.9 l0.5 2.1 M633.9 202.1 l-0.3 2.2 M644.7 213.5 l1.0 1.8 M645.7 227.6 l1.8 0.2 M581.6 171.6 l-1.5 2.1 M486.2 141.7 l-2.5 0.1 M675.8 232.8 l0.7 2.1 M657.1 209.4 l-1.2 1.1 M526.7 159.8 l2.4 0.3 M568.5 181.2 l2.0 1.6 M596.8 180.1 l-1.6 1.0 M630.3 219.1 l2.4 0.5 M479.0 129.7 l1.3 1.3 M642.8 206.3 l-1.8 0.5 M585.4 189.8 l1.6 0.1 M526.6 144.6 l-0.1 2.5 M628.8 209.0 l-1.4 0.7 M590.3 197.6 l0.2 1.5 M551.6 175.2 l2.3 0.5 M594.3 182.3 l0.1 2.5 M662.9 231.8 l-0.7 1.6 M576.1 174.3 l2.4 0.2 M524.3 155.4 l1.5 1.5 M641.1 223.8 l0.6 1.7"/>
<path d="M471.8 152.4 l1.4 1.5 M621.1 219.9 l1.9 0.9 M553.7 187.3 l0.6 1.5 M516.1 165.3 l0.8 1.7 M572.7 204.7 l2.0 0.6 M600.0 218.7 l1.2 0.8 M527.6 182.2 l2.0 0.9 M630.1 230.1 l1.6 0.5 M460.7 136.4 l0.3 2.2 M591.9 215.4 l-2.0 0.2 M492.6 166.4 l-0.1 1.9 M525.4 170.7 l-1.6 0.6 M612.2 215.8 l0.2 2.0 M541.8 193.0 l-1.6 0.1 M566.9 191.2 l-1.6 1.8 M510.1 176.6 l0.7 1.7 M488.6 149.2 l-2.3 0.8 M585.8 199.4 l-0.8 1.4 M553.7 195.5 l-1.4 0.8 M500.5 170.8 l1.2 1.2 M564.5 202.9 l1.9 1.8 M530.3 173.6 l2.1 0.7 M574.3 195.2 l-0.9 1.6 M480.5 156.7 l-0.8 2.4 M622.1 225.4 l2.3 1.2 M580.6 204.9 l1.4 0.5 M580.3 196.9 l-0.7 1.5 M465.3 148.6 l0.2 2.1 M519.2 180.5 l-1.7 0.2 M612.8 227.0 l1.5 1.1 M502.6 164.6 l-1.9 1.7 M535.0 188.1 l-1.5 0.5 M470.4 141.3 l-1.6 0.8 M519.0 171.8 l-1.4 0.2 M547.2 194.6 l-1.6 1.0 M561.5 197.9 l-2.4 0.6 M487.4 165.6 l-0.2 1.6 M475.8 143.7 l-1.8 1.5 M478.1 148.8 l0.8 1.6 M465.0 141.1 l-0.5 2.5 M579.5 208.6 l-1.7 1.2 M521.7 174.4 l1.4 0.7 M627.5 231.2 l-0.5 1.9 M476.6 154.8 l1.9 0.4 M628.3 223.3 l2.4 0.7 M489.1 160.7 l1.0 1.5 M513.5 173.0 l0.8 1.5 M472.7 149.4 l2.1 0.3 M563.0 194.0 l0.9 1.4 M509.3 170.4 l0.4 2.1 M608.2 216.2 l1.2 2.0 M558.9 190.9 l-0.3 1.6 M633.0 225.7 l1.8 0.3 M483.8 160.4 l0.6 1.9 M568.1 196.6 l1.7 0.6 M522.9 182.8 l0.5 2.4 M540.4 189.3 l-1.1 0.8 M574.2 201.1 l1.8 1.4 M464.2 153.1 l0.9 2.4 M618.6 225.9 l0.9 1.9 M512.2 163.9 l-1.5 2.0 M504.5 174.0 l0.4 1.7 M615.9 216.5 l2.4 0.4 M485.1 148.8 l-2.1 1.2 M534.4 178.6 l-1.7 0.8 M620.6 230.4 l1.3 1.7 M471.8 156.6 l-2.2 0.6 M522.6 177.6 l-0.1 2.6 M528.4 171.8 l-1.2 1.7 M554.9 200.0 l2.0 1.1 M560.5 200.7 l1.2 1.5 M460.9 145.4 l2.0 0.4"/>
<path d="M575.5 233.9 l-1.6 0.3 M484.0 185.9 l0.1 2.2 M530.7 210.1 l0.2 2.0 M616.5 259.8 l0.0 1.6 M459.8 168.8 l-1.4 0.1 M601.3 227.9 l-1.9 0.6 M507.7 189.3 l-1.3 1.8 M565.8 212.8 l-2.4 0.7 M611.3 238.2 l0.9 1.3 M552.9 226.0 l0.2 1.7 M529.3 199.2 l0.6 2.1 M550.9 202.5 l-2.2 0.8 M469.9 162.1 l-0.8 2.1 M451.1 158.4 l-2.1 0.8 M511.7 206.7 l1.0 1.9 M588.4 242.8 l-0.8 2.1 M497.8 177.2 l2.2 0.3 M495.2 194.0 l-0.1 2.5 M586.3 235.4 l-1.9 1.0 M539.7 219.5 l1.5 1.3 M600.4 248.6 l-0.8 1.2 M465.9 180.1 l-2.1 0.9 M537.2 204.0 l-0.3 1.8 M475.9 171.2 l0.5 1.8 M520.2 211.2 l1.8 1.3 M583.4 227.8 l0.7 1.8 M549.6 212.8 l-0.4 1.8 M599.9 239.1 l1.8 0.0 M529.0 192.5 l2.3 0.5 M563.2 226.2 l-1.1 2.2 M464.6 166.7 l-0.2 1.9 M500.1 184.5 l-0.8 1.5 M592.2 229.6 l-1.5 0.9 M567.1 233.0 l-1.8 0.6 M488.9 192.4 l-1.3 2.1 M596.6 242.9 l-0.6 1.7 M519.6 203.9 l-1.6 0.3 M582.3 218.0 l2.0 1.6 M508.6 200.3 l-1.3 1.1 M487.2 171.5 l-0.2 1.9 M471.2 175.2 l1.1 1.5 M557.6 205.5 l-1.2 1.5 M537.8 211.4 l1.0 1.2 M451.4 171.3 l-1.6 1.8 M474.2 183.1 l-0.7 2.0 M604.2 231.4 l1.1 1.8 M487.0 179.5 l-2.1 0.1 M588.8 221.3 l-0.4 2.5 M491.1 185.1 l-2.2 1.2 M579.5 238.7 l-1.5 1.8 M556.7 216.7 l-0.4 1.8 M543.8 202.0 l-2.3 0.4 M458.7 180.3 l1.8 0.6 M555.1 221.4 l-0.7 1.4 M451.0 162.7 l0.7 1.7 M463.2 161.4 l-0.6 2.2 M542.7 208.2 l1.4 0.2 M605.9 250.7 l-1.4 1.8 M597.0 249.2 l-1.6 1.3 M591.6 238.1 l0.9 1.3 M459.7 157.3 l-1.3 2.1 M596.0 233.4 l-1.2 2.0 M477.7 188.9 l-1.3 0.9 M544.8 223.9 l0.9 2.2"/>
<path d="M649.1 252.6 L671.2 262.9"/>
<path d="M642.8 256.5 L665.7 266.0"/>
<path d="M627.1 264.4 L650.7 278.6"/>
<path d="M621.5 269.2 L645.2 281.8"/>
<path d="M653.5 258.4 l2.3 1.0 M650.6 271.4 l1.4 2.0 M659.2 264.8 l2.3 0.3 M646.4 255.4 l2.6 0.5 M639.1 263.1 l2.0 0.6 M653.3 264.6 l-2.6 0.1 M655.8 272.6 l0.3 2.7 M648.4 260.8 l1.1 2.4 M662.2 267.8 l1.1 2.3 M659.5 269.4 l-2.0 0.5 M646.0 265.3 l-0.9 1.9 M644.0 264.3 l-2.3 1.2 M643.0 261.3 l-1.7 0.1 M647.2 259.4 l-2.4 1.2 M653.7 265.4 l2.0 0.5"/>
</g>
<g id="tray1-lower-right">
<path d="M297.6 286.5 L299.2 274.2 L429.0 340.7"/>
<path d="M429 340.7 Q438.5 345.5 439.2 351 Q439.5 356.5 431.5 362.2 L409 378.4"/>
<path d="M280.7 281.8 L431.0 363.3"/>
<path d="M276.6 283.7 L427.0 367.3"/>
<path d="M283.1 285.2 L285.7 286.6 M289.4 288.9 L292.0 290.3 M295.5 291.9 L298.1 293.3 M302.2 295.6 L304.8 297.1 M308.2 298.9 L310.8 300.3 M314.2 302.0 L316.8 303.5 M320.6 306.0 L323.2 307.5 M327.4 309.6 L330.0 311.0 M333.4 312.8 L336.0 314.2 M338.8 315.9 L341.5 317.4 M344.8 318.9 L347.5 320.4 M352.2 323.0 L354.8 324.5 M359.5 327.2 L362.1 328.6 M366.4 331.0 L369.0 332.4 M371.9 334.1 L374.6 335.6 M377.8 337.1 L380.4 338.6 M383.4 340.0 L386.0 341.4 M389.4 343.2 L392.1 344.7 M395.2 347.0 L397.9 348.4 M402.8 350.9 L405.4 352.3 M408.2 353.8 L410.9 355.2 M413.6 356.7 L416.3 358.1 M420.1 360.5 L422.7 361.9 M425.4 363.3 L428.0 364.8" stroke-width="1.01"/>
<path d="M312.2 293.8 L326.8 301.4 A4.8 4.8 0 0 0 331.2 293.0 L316.6 285.4 A4.8 4.8 0 0 0 312.2 293.8 Z"/>
<path d="M355.6 316.6 L370.2 324.2 A4.8 4.8 0 0 0 374.6 315.8 L360.0 308.2 A4.8 4.8 0 0 0 355.6 316.6 Z"/>
<path d="M400.8 340.4 L415.4 348.0 A4.8 4.8 0 0 0 419.8 339.6 L405.2 332.0 A4.8 4.8 0 0 0 400.8 340.4 Z"/>
<path d="M251.0 295.9 L411.5 375.1"/>
<path d="M247.1 297.7 L407.2 377.9"/>
<path d="M411.5 375.1 L407.2 377.9"/>
<path d="M253.4 299.2 L256.1 300.6 M259.1 302.1 L261.8 303.4 M265.1 304.8 L267.8 306.1 M272.5 308.3 L275.2 309.7 M279.0 311.5 L281.7 312.8 M286.3 315.6 L289.0 317.0 M292.2 318.0 L294.9 319.3 M298.5 321.4 L301.2 322.7 M305.6 324.8 L308.3 326.1 M312.3 328.0 L315.0 329.3 M318.1 330.9 L320.8 332.2 M324.6 334.4 L327.2 335.7 M331.2 337.9 L333.8 339.2 M337.3 340.6 L340.0 341.9 M343.5 344.1 L346.2 345.4 M349.7 346.7 L352.4 348.0 M355.9 350.0 L358.6 351.4 M362.0 352.7 L364.7 354.1 M368.8 356.4 L371.5 357.7 M375.6 359.4 L378.3 360.7 M381.5 362.4 L384.2 363.7 M387.4 365.9 L390.1 367.2 M395.0 369.6 L397.7 370.9 M401.2 372.5 L403.9 373.8" stroke-width="1.01"/>
<path d="M238.6 314.6 L387.2 393.6"/>
<path d="M235.4 318.9 L383.6 397.9"/>
<path d="M387.2 393.6 L383.6 397.9"/>
<path d="M241.4 319.1 L244.1 320.5 M247.2 322.5 L249.8 323.9 M253.7 325.4 L256.4 326.8 M260.7 329.1 L263.3 330.5 M266.4 332.1 L269.0 333.5 M272.8 336.0 L275.4 337.4 M279.6 339.2 L282.2 340.6 M286.5 343.4 L289.1 344.8 M292.6 346.2 L295.3 347.6 M299.2 350.2 L301.8 351.6 M306.5 354.0 L309.1 355.4 M313.5 357.3 L316.2 358.7 M320.1 360.9 L322.7 362.3 M326.7 364.5 L329.4 365.9 M332.3 367.7 L334.9 369.2 M337.8 370.3 L340.4 371.7 M343.6 373.8 L346.2 375.2 M349.2 376.5 L351.8 377.9 M356.5 380.4 L359.2 381.9 M363.9 384.2 L366.5 385.6 M370.1 387.5 L372.8 388.9 M376.2 390.7 L378.8 392.1 M381.4 394.0 L384.1 395.4" stroke-width="1.01"/>
<path d="M282.5 299.3 L297.7 293.0 L315.4 304.3 L302.7 311.2Z"/>
<path d="M331.8 325.8 L340.6 320.7 L369.6 333.4 L360.8 339.2Z"/>
<path d="M378.5 352.3 L387.3 346.0 L413.8 358.6 L405.0 364.4Z"/>
<path d="M351.4 365.6 L360.5 359.8 L384.5 372.4 L375.8 378.6Z"/>
<path d="M309.0 343.5 L293.6 336.7 L305.3 330.8 L322.2 338.8"/>
<path d="M330.0 357.2 L336.5 359.3 L350.0 352.2"/>
<path d="M253.3 315.2 L267.2 308.9 L287.4 320.2 L272.2 326.5Z"/>
</g>
<g id="column-and-arm">
<path d="M584 139.7 L584 134 Q584.3 132.6 586 132 L615.7 119.5 L625.6 119.6 Q628.6 120 629.1 122.9 L627 131 Q626.4 132.4 624.5 133 L619.2 134.9" fill="#fefefe"/>
<path d="M584 139.7 L591.7 146.6 L595.6 145.4 L596.2 136.4 L611.3 128.8 L619.2 134.9"/>
<ellipse cx="591.6" cy="139.0" rx="3.0" ry="1.9" transform="rotate(-30.0 591.6 139.0)" fill="none"/>
<ellipse cx="602.9" cy="129.2" rx="3.0" ry="1.9" transform="rotate(-30.0 602.9 129.2)" fill="none"/>
<ellipse cx="620.4" cy="125.8" rx="3.0" ry="1.9" transform="rotate(-25.0 620.4 125.8)" fill="none"/>
<path d="M596.4 136.4 L596.4 180.1"/>
<path d="M600.3 137.5 L600.3 182.0"/>
<path d="M610.6 129.5 L610.6 187.1"/>
<path d="M613.2 131.0 L613.2 188.4"/>
<path d="M619.2 134.9 L619.2 191.3"/>
<path d="M602.9 136.5 L602.9 183.3" stroke-width="0.90"/>
<ellipse cx="606.3" cy="141.5" rx="1.5" ry="3.0" transform="rotate(5.0 606.3 141.5)" fill="none"/>
<ellipse cx="606.3" cy="151.7" rx="1.5" ry="3.0" transform="rotate(5.0 606.3 151.7)" fill="none"/>
<ellipse cx="606.3" cy="162.9" rx="1.5" ry="3.0" transform="rotate(5.0 606.3 162.9)" fill="none"/>
<ellipse cx="606.3" cy="173.5" rx="1.5" ry="3.0" transform="rotate(5.0 606.3 173.5)" fill="none"/>
<path d="M594.9 254.3 L594.9 302.3 Q596 307.5 601.7 309.1"/>
<path d="M599.9 254.8 L599.9 304.5"/>
<path d="M599.9 304.5 Q600.5 307 602.6 308.2"/>
<path d="M608.6 260.0 L608.6 296.6 L600.5 303.5"/>
<path d="M608.6 280.6 L613.1 279.8 L613.1 298.9 L608.6 300.5"/>
<rect x="602.2" y="263.5" width="2.6" height="4.4" rx="0.8"/>
<rect x="602.2" y="272.7" width="2.6" height="4.4" rx="0.8"/>
<rect x="602.2" y="281.8" width="2.6" height="4.4" rx="0.8"/>
<rect x="602.2" y="290.9" width="2.6" height="4.4" rx="0.8"/>
<path d="M594.9 269.1 L553 288 Q548 290.6 549.6 292.3 Q551.5 293.5 556 292.3 L578.9 286.3 L594.9 281.7" fill="#fefefe"/>
<path d="M613.7 260.8 L659.4 240.0"/>
<path d="M613.7 271.5 L664.1 242.4"/>
<path d="M659.4 240.0 L664.1 242.4"/>
</g>
<g id="pipe">
<path d="M310.5 352 L309.4 441.7 Q309.6 446.5 315 446.9 Q320.4 446.5 320.6 442.7 L323.2 352 Z" fill="#fefefe"/>
<path d="M309.4 441.7 Q310 438.6 315 438.5 Q320 438.8 320.6 442.7" stroke-width="1.01"/>
<path d="M309.8 357 L309.3 343.5 Q309.6 338.2 317.5 337.9 Q325.4 338.2 325.8 343.5 L325.1 351.6 Q324.6 353.4 323.3 353.6 Q322.8 350.4 317 350.1 Q311.2 350.4 310.6 354.4 Z" fill="#fefefe"/>
</g>
<g id="labels">
<path d="M18.0 36.0 L94.0 36.0"/>
<path d="M18.0 36.0 L121.7 156.7"/>
<text x="60.6" y="31.8" font-size="10.50" text-anchor="middle" fill="#5c5c5c" stroke="none">连接板</text>
<text x="58.3" y="50.0" font-size="10.50" text-anchor="middle" fill="#5c5c5c" stroke="none">ZH-06</text>
<path d="M171.4 40.0 L256.0 40.0"/>
<path d="M171.4 40.0 L240.4 119.5"/>
<text x="214.3" y="35.3" font-size="10.50" text-anchor="middle" fill="#5c5c5c" stroke="none">配线桥架</text>
<text x="214.5" y="52.6" font-size="10.50" text-anchor="middle" fill="#5c5c5c" stroke="none">ZH-03A</text>
<path d="M300.4 42.8 L367.6 42.8"/>
<path d="M300.4 42.8 L331.6 80.5"/>
<text x="333.2" y="38.8" font-size="10.50" text-anchor="middle" fill="#5c5c5c" stroke="none">连接片</text>
<text x="333.8" y="54.4" font-size="10.50" text-anchor="middle" fill="#5c5c5c" stroke="none">ZH-08</text>
<path d="M403.3 46.8 L536.1 46.8"/>
<path d="M403.3 46.8 L465.5 120.3"/>
<text x="467.2" y="43.1" font-size="10.80" text-anchor="middle" fill="#5c5c5c" stroke="none">组合式电缆桥架</text>
<text x="465.0" y="58.9" font-size="10.50" text-anchor="middle" fill="#5c5c5c" stroke="none">ZH-01A</text>
<path d="M547.6 72.4 L649.6 72.4"/>
<path d="M547.6 72.4 L598.1 128.7"/>
<text x="602.7" y="67.9" font-size="10.50" text-anchor="middle" fill="#5c5c5c" stroke="none">工字钢立柱</text>
<text x="608.2" y="83.2" font-size="10.50" text-anchor="middle" fill="#5c5c5c" stroke="none">H-01A(Ⅱ)</text>
<path d="M138.0 431.8 L208.0 431.8"/>
<path d="M208.0 431.8 L293.9 348.5"/>
<text x="173.0" y="427.7" font-size="10.50" text-anchor="middle" fill="#5c5c5c" stroke="none">管接头</text>
<text x="165.6" y="446.3" font-size="10.50" text-anchor="middle" fill="#5c5c5c" stroke="none">ZH-09</text>
<path d="M384.0 438.3 L441.3 438.3"/>
<path d="M384.0 438.3 L317.7 406.7"/>
<text x="411.5" y="433.8" font-size="10.50" text-anchor="middle" fill="#5c5c5c" stroke="none">引线管</text>
<text x="412.3" y="450.3" font-size="10.50" text-anchor="middle" fill="#5c5c5c" stroke="none">（钢管）</text>
<path d="M499.5 441.7 L552.0 441.7"/>
<path d="M499.5 441.7 L577.7 286.3"/>
<text x="530.7" y="437.3" font-size="10.50" text-anchor="middle" fill="#5c5c5c" stroke="none">托臂</text>
<text x="532.0" y="453.7" font-size="10.50" text-anchor="middle" fill="#5c5c5c" stroke="none">TB-01B</text>
</g>
</svg>
</body></html>
